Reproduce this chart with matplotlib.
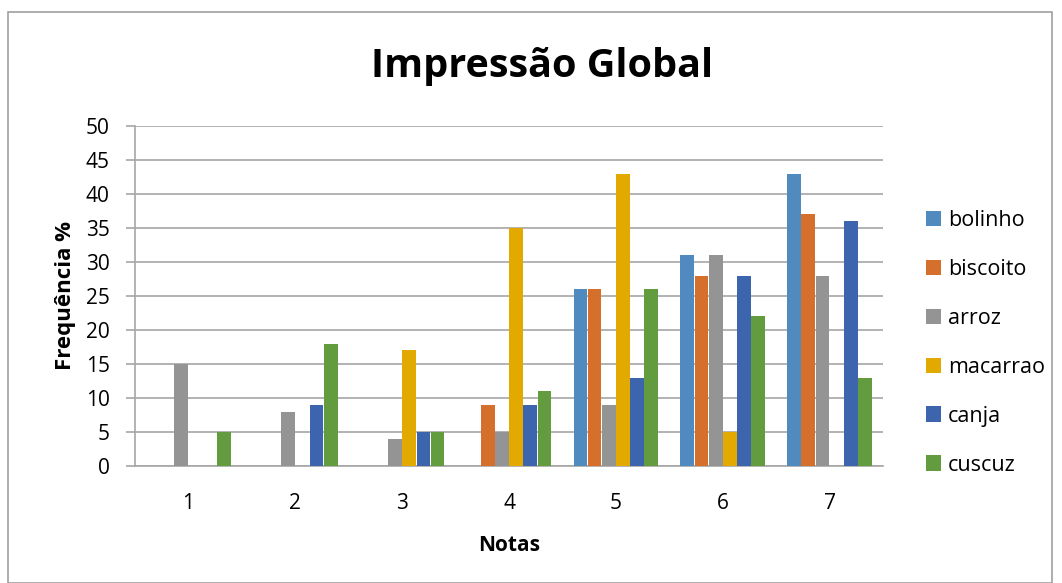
import matplotlib
matplotlib.use("Agg")
import matplotlib.pyplot as plt
import numpy as np
from matplotlib.patches import Rectangle

categories = ["1", "2", "3", "4", "5", "6", "7"]
series_names = ["bolinho", "biscoito", "arroz", "macarrao", "canja", "cuscuz"]
bolinho = [0, 0, 0, 0, 26, 31, 43]
biscoito = [0, 0, 0, 9, 26, 28, 37]
arroz = [15, 8, 4, 5, 9, 31, 28]
macarrao = [0, 0, 17, 35, 43, 5, 0]
canja = [0, 9, 5, 9, 13, 28, 36]
cuscuz = [5, 18, 5, 11, 26, 22, 13]
yticks = [0, 5, 10, 15, 20, 25, 30, 35, 40, 45, 50]

values = [bolinho, biscoito, arroz, macarrao, canja, cuscuz]
colors = ["#508ABF", "#D5702C", "#949494", "#E2AA00", "#3D65AD", "#639B3F"]

plt.rcParams['font.family'] = ['Open Sans', 'DejaVu Sans']

fig = plt.figure(figsize=(10.62, 5.83), dpi=100)
W, H = 1062, 583
# outer border
fig.patches.append(Rectangle((8 / W, 0), (1052 - 8) / W, (583 - 12) / H,
                             transform=fig.transFigure, fill=False,
                             edgecolor="#A0A0A0", linewidth=1.2))

ax = fig.add_axes([135 / W, 1 - 466 / H, (883 - 135) / W, (466 - 126) / H])
x = np.arange(len(categories))
n = len(series_names)
group = 0.795
bw = group / n
for i, (name, vals, c) in enumerate(zip(series_names, values, colors)):
    ax.bar(x - group / 2 + bw * (i + 0.5), vals, width=bw * 0.97, color=c,
           label=name, zorder=3)

ax.set_xlim(-0.5, len(categories) - 0.5)
ax.set_ylim(0, 50)
ax.set_yticks(yticks)
ax.set_xticks(x)
ax.set_xticklabels(categories)
ax.grid(axis='y', color="#A6A6A6", linewidth=1.2, zorder=0)
for s in ["top", "right"]:
    ax.spines[s].set_visible(False)
ax.spines["left"].set_color("#A6A6A6")
ax.spines["bottom"].set_color("#A6A6A6")
ax.spines["left"].set_linewidth(1.2)
ax.spines["bottom"].set_linewidth(1.2)
ax.tick_params(axis='y', length=6.3, width=1.2, color="#A6A6A6", labelsize=15, pad=12)
ax.tick_params(axis='x', length=0, labelsize=15, pad=19.5)

ax.set_ylabel("Frequência %", fontsize=16, fontweight='bold', labelpad=7)
ax.set_xlabel("Notas", fontsize=15, fontweight='bold', labelpad=15)
fig.text(542 / W, 1 - 77 / H, "Impressão Global", ha='center', va='baseline',
         fontsize=28.5, fontweight='bold')

ax.legend(loc='center left', bbox_to_anchor=(1.046, 0.363), frameon=False,
          fontsize=15.5, handlelength=0.7, handleheight=0.7, handletextpad=0.33,
          labelspacing=1.3, borderaxespad=0)

fig.savefig("out.png", dpi=100)
